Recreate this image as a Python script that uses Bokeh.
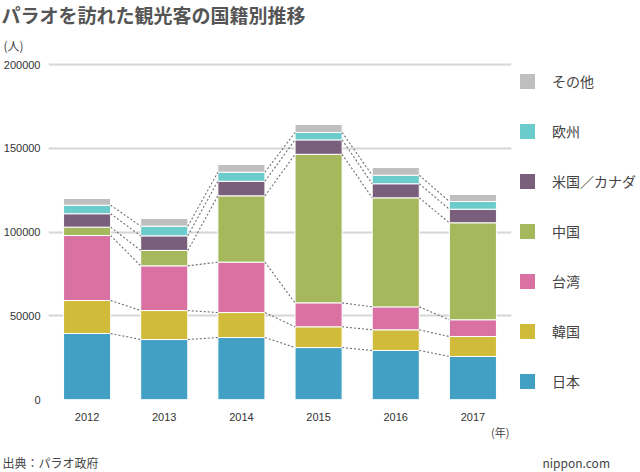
from bokeh.plotting import figure
from bokeh.models import ColumnDataSource, Legend, LegendItem, FixedTicker, Title
from bokeh.embed import file_html
from bokeh.resources import INLINE

# Visitors to Palau by nationality (people)
YEARS = ["2012", "2013", "2014", "2015", "2016", "2017"]
japan = [39400, 35800, 37000, 31000, 29300, 25700]
korea = [19700, 17300, 14900, 12400, 12300, 11900]
taiwan = [38800, 26700, 30100, 14300, 13700, 10000]
china = [5000, 9200, 39600, 88700, 65100, 57900]
us_canada = [8000, 8700, 8700, 8600, 8400, 8100]
europe = [5100, 5800, 5400, 4400, 5100, 4600]
other = [4000, 4600, 4600, 4800, 4600, 4200]

SERIES = ["日本", "韓国", "台湾", "中国", "米国／カナダ", "欧州", "その他"]
VALUES = [japan, korea, taiwan, china, us_canada, europe, other]
COLORS = ["#41a0c4", "#d0bb3a", "#d972a2", "#a5b85c", "#7a5f7d", "#6ccbcb", "#bfbfbf"]
Y_TICKS = [0, 50000, 100000, 150000, 200000]

FONT = "Noto Sans CJK JP"
TEXT = "#444444"
BAR_W = 0.61

xs = [i + 0.5 for i in range(len(YEARS))]
data = {"x": xs}
for name, vals in zip(SERIES, VALUES):
    data[name] = vals
source = ColumnDataSource(data)

p = figure(
    frame_width=463, frame_height=337,
    x_range=(0, len(YEARS)), y_range=(0, 201200),
    min_border_left=41, min_border_right=128,
    min_border_top=40, min_border_bottom=40,
    toolbar_location=None, output_backend="svg",
)
p.outline_line_color = None

renderers = p.vbar_stack(SERIES, x="x", width=BAR_W, color=COLORS,
                         line_color="white", line_width=1, source=source)

# dotted connectors between the boundaries of neighbouring bars
cum = []
running = [0] * len(YEARS)
for vals in VALUES[:-1]:
    running = [a + b for a, b in zip(running, vals)]
    cum.append(running)
x0, y0, x1, y1 = [], [], [], []
for level in cum:
    for i in range(len(YEARS) - 1):
        x0.append(xs[i] + BAR_W / 2)
        y0.append(level[i])
        x1.append(xs[i + 1] - BAR_W / 2)
        y1.append(level[i + 1])
p.segment(x0=x0, y0=y0, x1=x1, y1=y1, line_color="#707070",
          line_width=1.1, line_dash="2 2")

# axes
p.xaxis.ticker = FixedTicker(ticks=xs)
p.xaxis.major_label_overrides = {x: y for x, y in zip(xs, YEARS)}
p.yaxis.ticker = FixedTicker(ticks=Y_TICKS)
for ax in (p.xaxis, p.yaxis):
    ax.axis_line_color = None
    ax.major_tick_line_color = None
    ax.minor_tick_line_color = None
    ax.major_label_text_font = "Liberation Sans"
    ax.major_label_text_font_size = "11px"
    ax.major_label_text_color = "#333333"
p.xaxis.major_label_standoff = 7
p.yaxis.major_label_standoff = 2
p.yaxis.formatter.use_scientific = False
p.xgrid.grid_line_color = None
p.ygrid.grid_line_color = "#d6d6d6"
p.ygrid.grid_line_width = 2

# legend (top item is the top of the stack)
items = [LegendItem(label=name, renderers=[r]) for name, r in zip(SERIES, renderers)]
legend = Legend(items=items[::-1], location=(6, 8), padding=0, margin=0,
                spacing=30, glyph_width=20, glyph_height=20, label_height=20,
                label_standoff=15, label_text_font=FONT,
                label_text_font_size="14px", label_text_color=TEXT,
                border_line_color=None, background_fill_alpha=0)
p.add_layout(legend, "right")


def title(text, side, size, align="left", offset=0, standoff=0, valign="bottom",
          color=TEXT, style="normal"):
    p.add_layout(Title(text=text, align=align, offset=offset, standoff=standoff,
                       vertical_align=valign, text_font=FONT, text_font_size=size,
                       text_color=color, text_font_style=style), side)


# header: the first title added sits closest to the frame
p.title.visible = False
title("(人)", "above", "12px", offset=-45, standoff=14, valign="top")
title("パラオを訪れた観光客の国籍別推移", "above", "19px", offset=-47,
      color="#555555", style="bold", valign="top")

# footer: source on the left, site mark pushed to the right with ideographic spaces
title("(年)", "below", "11px", align="right", offset=2, standoff=0, valign="top")
title("出典：パラオ政府" + "\u3000" * 37 + "nippon.com", "below", "12px",
      offset=-46, standoff=24, valign="top")

open("out.html", "w").write(file_html(p, INLINE))
